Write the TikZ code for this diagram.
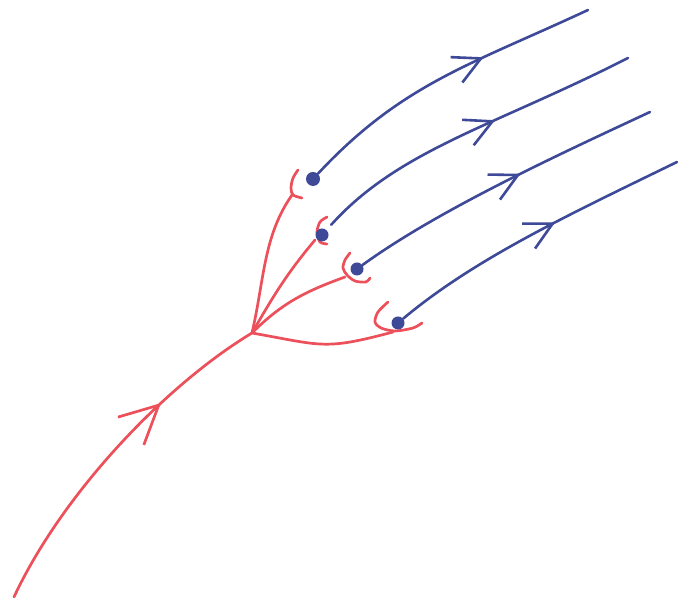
\documentclass[tikz,border=0pt]{standalone}
\usetikzlibrary{arrows.meta,decorations.markings}

\definecolor{penred}{RGB}{236,80,90}
\definecolor{penblue}{RGB}{62,74,152}

\begin{document}
\begin{tikzpicture}[x=1pt, y=1pt,
    axon/.style={penred, line width=2.7pt, line cap=round, line join=round},
    fibre/.style={penblue, line width=2.6pt, line cap=round},
    bouton/.style={circle, fill=penblue, inner sep=0pt, minimum size=13pt},
    redhead/.style={postaction={decorate}, decoration={markings,
        mark=at position #1 with {\arrow{Straight Barb[length=38pt, width=38pt]}}}},
    bluehead/.style={postaction={decorate}, decoration={markings,
        mark=at position #1 with {\arrow{Straight Barb[length=27pt, width=28pt]}}}}]
    \useasboundingbox (0,0) rectangle (679,601);

    \coordinate (root) at (14,4);
    \coordinate (fork) at (252,268);
    \coordinate (j1) at (292,406);
    \coordinate (j2) at (315,361);
    \coordinate (j3) at (345,324);
    \coordinate (j4) at (393,269);

    % red tree
    \draw[axon, redhead=0.68] (root) .. controls +(65:115) and +(211:100) .. (fork);
    \draw[axon] (fork) .. controls +(77:55) and +(235:50) .. (j1);
    \draw[axon] (fork) to[out=60, in=230] (j2);
    \draw[axon] (fork) to[out=45, in=200] (j3);
    \draw[axon] (fork) to[out=-10, in=195, looseness=1.3] (j4);

    \draw[axon] plot[smooth] coordinates {(298,431) (293,423) (291,413) (293,406) (302,403)};
    \draw[axon] plot[smooth] coordinates {(327,384) (320,379) (317,369) (320,359) (327,357)};
    \draw[axon] plot[smooth] coordinates {(350,348) (345,341) (343,333) (347,326) (355,320) (366,319) (370,323)};
    \draw[axon] plot[smooth] coordinates {(388,299) (378,289) (375,279) (381,273) (395,270) (413,273) (422,278)};

    % blue fibres
    \node[bouton, minimum size=14pt] (d1) at (313,422) {};
    \node[bouton] (d2) at (322,366) {};
    \node[bouton] (d3) at (357,332) {};
    \node[bouton] (d4) at (398,278) {};

    \coordinate (e1) at (588,591);
    \coordinate (e2) at (628,543);
    \coordinate (e3) at (650,489);
    \coordinate (e4) at (677,439);

    \draw[fibre, bluehead=0.64] (d1) .. controls +(47:130) and +(205:130) .. (e1);
    \draw[fibre, bluehead=0.58, shorten <=7pt] (d2) .. controls +(48:115) and +(207:150) .. (e2);
    \draw[fibre, bluehead=0.56] (d3) .. controls +(36:100) and +(205:100) .. (e3);
    \draw[fibre, bluehead=0.57] (d4) .. controls +(40:100) and +(206:120) .. (e4);
\end{tikzpicture}
\end{document}
